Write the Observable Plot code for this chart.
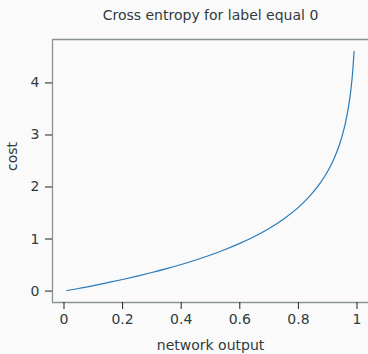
<!DOCTYPE html>
<html>
<head>
<meta charset="utf-8">
<script src="https://cdn.jsdelivr.net/npm/d3@7"></script>
<script src="https://cdn.jsdelivr.net/npm/@observablehq/plot@0.6"></script>
<style>
  html, body { margin: 0; padding: 0; background: #fafafa; }
  #chart svg { display: block; }
</style>
</head>
<body>
<div id="chart"></div>
<script>
const title = "Cross entropy for label equal 0";
const xLabel = "network output";
const yLabel = "cost";

const networkOutput = [0.01, 0.05, 0.1, 0.15, 0.2, 0.25, 0.3, 0.35, 0.4, 0.45, 0.5, 0.55, 0.6, 0.65, 0.7, 0.75, 0.8, 0.84, 0.87, 0.9, 0.92, 0.94, 0.95, 0.96, 0.97, 0.975, 0.98, 0.985, 0.99];
const cost = [0.01, 0.05, 0.105, 0.163, 0.223, 0.288, 0.357, 0.431, 0.511, 0.598, 0.693, 0.799, 0.916, 1.05, 1.204, 1.386, 1.609, 1.833, 2.04, 2.303, 2.526, 2.813, 2.996, 3.219, 3.507, 3.689, 3.912, 4.2, 4.605];

const xTicks = [0, 0.2, 0.4, 0.6, 0.8, 1];
const xTickLabels = ["0", "0.2", "0.4", "0.6", "0.8", "1"];
const yTicks = [0, 1, 2, 3, 4];
const yTickLabels = ["0", "1", "2", "3", "4"];

const data = networkOutput.map((x, i) => ({x, y: cost[i]}));

const xDomain = [-0.0392, 1.0392];
const yDomain = [-0.2197, 4.835];

const textColor = "#2f3b40";
const spineColor = "#8a9496";
const font = "DejaVu Sans, sans-serif";

const chart = Plot.plot({
  width: 368,
  height: 354,
  marginLeft: 52,
  marginRight: 0,
  marginTop: 39,
  marginBottom: 52,
  style: {background: "#fafafa", fontFamily: font, color: textColor},
  x: {domain: xDomain},
  y: {domain: yDomain},
  marks: [
    Plot.ruleY([yDomain[1]], {stroke: spineColor, strokeWidth: 1.3}),
    Plot.ruleY([yDomain[0]], {stroke: spineColor, strokeWidth: 1.3}),
    Plot.ruleX([xDomain[0]], {stroke: spineColor, strokeWidth: 1.3}),
    Plot.axisX({
      ticks: xTicks,
      tickFormat: (d) => xTickLabels[xTicks.indexOf(d)],
      tickSize: 7,
      tickPadding: 5,
      fontSize: 14,
      stroke: "#222",
      fill: textColor,
      label: null
    }),
    Plot.axisY({
      ticks: yTicks,
      tickFormat: (d) => yTickLabels[yTicks.indexOf(d)],
      tickSize: 7,
      tickPadding: 6,
      fontSize: 14,
      stroke: "#222",
      fill: textColor,
      label: null
    }),
    Plot.line(data, {x: "x", y: "y", stroke: "#2a7ab9", strokeWidth: 1.2, curve: "monotone-x"}),
    Plot.text([title], {frameAnchor: "top", text: (d) => d, dy: -20, fontSize: 14, fill: textColor, lineAnchor: "bottom"}),
    Plot.text([xLabel], {frameAnchor: "bottom", text: (d) => d, dy: 47, fontSize: 14, fill: textColor, lineAnchor: "bottom"}),
    Plot.text([yLabel], {frameAnchor: "left", text: (d) => d, dx: -40, rotate: -90, fontSize: 14, fill: textColor})
  ]
});

document.getElementById("chart").appendChild(chart);
</script>
</body>
</html>
